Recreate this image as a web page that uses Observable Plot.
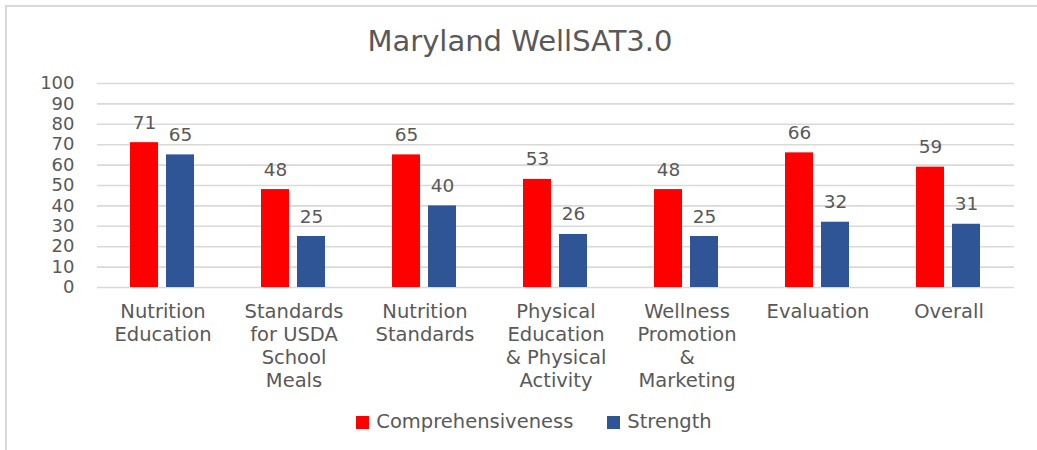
<!DOCTYPE html>
<html><head><meta charset="utf-8">
<script src="https://cdn.jsdelivr.net/npm/d3@7"></script>
<script src="https://cdn.jsdelivr.net/npm/@observablehq/plot@0.6"></script>
<style>
body{margin:0;background:#fff;font-family:"DejaVu Sans",sans-serif;}
#wrap{position:relative;width:1037px;height:450px;overflow:hidden;background:#fff;}
#frame{position:absolute;left:5px;top:5px;width:1100px;height:500px;border-left:2px solid #d9d9d9;border-top:2px solid #d9d9d9;}
#title{position:absolute;top:24px;left:0;width:1040px;text-align:center;font-size:29px;color:#595959;line-height:34px;}
#chart{position:absolute;top:60px;left:0;}
#legend{position:absolute;top:410px;left:0;width:1068px;text-align:center;font-size:19.5px;color:#595959;line-height:24px;}
.item{display:inline-flex;align-items:center;margin:0 17px;}
.sw{display:inline-block;width:13px;height:13px;margin-right:7px;}
</style></head>
<body>
<div id="wrap">
  <div id="frame"></div>
  <div id="title">Maryland WellSAT3.0</div>
  <div id="chart"></div>
  <div id="legend"></div>
</div>
<script>
const categories = ["Nutrition Education", "Standards for USDA School Meals", "Nutrition Standards", "Physical Education & Physical Activity", "Wellness Promotion & Marketing", "Evaluation", "Overall"];
const categoryLabels = ["Nutrition\nEducation", "Standards\nfor USDA\nSchool\nMeals", "Nutrition\nStandards", "Physical\nEducation\n& Physical\nActivity", "Wellness\nPromotion\n&\nMarketing", "Evaluation", "Overall"];
const series = ["Comprehensiveness", "Strength"];
const comprehensiveness = [71, 48, 65, 53, 48, 66, 59];
const strength = [65, 25, 40, 26, 25, 32, 31];
const yTicks = [0, 10, 20, 30, 40, 50, 60, 70, 80, 90, 100];
const colors = ["#FF0000", "#2F5597"];

const data = [];
categories.forEach((c, i) => {
  data.push({category: c, series: series[0], value: comprehensiveness[i]});
  data.push({category: c, series: series[1], value: strength[i]});
});

const chart = Plot.plot({
  width: 1037, height: 340,
  marginLeft: 95, marginRight: 22, marginTop: 23, marginBottom: 113,
  style: {fontFamily: "DejaVu Sans", color: "#595959", background: "transparent", overflow: "visible"},
  fx: {domain: categories, padding: 0, label: null},
  x: {domain: series, paddingInner: 0.216, paddingOuter: 0.884, axis: null},
  y: {domain: [0, 100], label: null},
  color: {domain: series, range: colors},
  marks: [
    Plot.gridY(yTicks, {stroke: "#d9d9d9", strokeOpacity: 1, strokeWidth: 1.6}),
    Plot.axisY(yTicks, {tickSize: 0, tickPadding: 23, fontSize: 18, label: null}),
    Plot.axisFx({anchor: "bottom", tickSize: 0, tickPadding: 14, fontSize: 19.5, lineHeight: 1.18, label: null,
      tickFormat: d => categoryLabels[categories.indexOf(d)]}),
    Plot.barY(data, {fx: "category", x: "series", y: "value", fill: "series"}),
    Plot.text(data, {fx: "category", x: "series", y: "value", text: d => String(d.value),
      lineAnchor: "bottom", dy: -14, fontSize: 18.5, fill: "#595959"})
  ]
});
document.getElementById("chart").appendChild(chart);

const legend = document.getElementById("legend");
series.forEach((s, i) => {
  const it = document.createElement("span");
  it.className = "item";
  const sw = document.createElement("span");
  sw.className = "sw";
  sw.style.background = colors[i];
  it.appendChild(sw);
  it.appendChild(document.createTextNode(s));
  legend.appendChild(it);
});
</script>
</body></html>
